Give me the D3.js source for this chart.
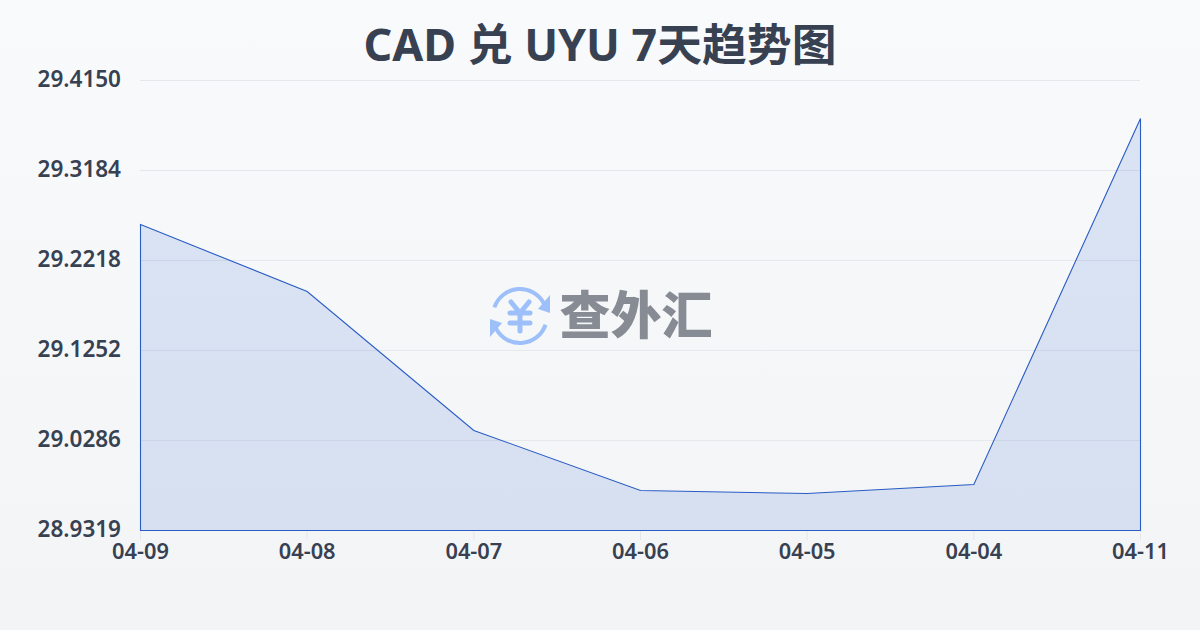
<!DOCTYPE html>
<meta charset="utf-8">
<body>
<script src="https://cdn.jsdelivr.net/npm/d3@7"></script>
<style>
    html, body {
        margin: 0;
        height: 100%;
        background: #f8f9fc;
    }
    svg { display: block; }
    text { font-family: "Noto Sans", "Noto Sans CJK SC", sans-serif; }
</style>
<script>
var dates = ["04-09", "04-08", "04-07", "04-06", "04-05", "04-04", "04-11"],
    rates = [29.2604, 29.1885, 29.0393, 28.9749, 28.9716, 28.9813, 29.3742],
    yTicks = [29.4150, 29.3184, 29.2218, 29.1252, 29.0286, 28.9319],
    title = "CAD 兑 UYU 7天趋势图",
    width = 1200,
    height = 630;

var svg = d3.select("body").append("svg")
    .attr("width", width)
    .attr("height", height);

var grad = svg.append("defs").append("linearGradient")
    .attr("id", "bg")
    .attr("x1", 0).attr("y1", 0)
    .attr("x2", 0).attr("y2", 1);
grad.append("stop").attr("offset", "0%").attr("stop-color", "#f9fafc");
grad.append("stop").attr("offset", "100%").attr("stop-color", "#f3f4f6");

svg.append("rect")
    .attr("width", width)
    .attr("height", height)
    .attr("fill", "url(#bg)");

var x = d3.scalePoint().domain(dates).range([140, 1140]),
    y = d3.scaleLinear().domain([28.9319, 29.4150]).range([530, 80]);

svg.append("text")
    .attr("x", 600)
    .attr("y", 61)
    .attr("text-anchor", "middle")
    .attr("font-size", 44.8)
    .attr("font-weight", 700)
    .attr("fill", "#374151")
    .text(title);

// grid + y labels
var yAxis = svg.append("g")
    .attr("transform", "translate(140,0)")
    .call(d3.axisLeft(y).tickValues(yTicks).tickSize(-1000).tickPadding(19).tickFormat(d3.format(".4f")));
yAxis.select(".domain").remove();
yAxis.selectAll(".tick line").attr("stroke", "#e5e7eb").attr("stroke-width", 1);
yAxis.selectAll(".tick text")
    .attr("fill", "#374151")
    .attr("font-size", 22.5)
    .attr("font-weight", 600)
    .attr("dy", "0.28em")
    .style("font-family", '"Noto Sans", sans-serif');

// x labels
var xAxis = svg.append("g")
    .attr("transform", "translate(0,530)")
    .call(d3.axisBottom(x).tickSize(10).tickPadding(4));
xAxis.select(".domain").remove();
xAxis.selectAll(".tick line").attr("stroke", "#e5e7eb");
xAxis.selectAll(".tick text")
    .attr("fill", "#374151")
    .attr("font-size", 21.8)
    .attr("font-weight", 600)
    .style("font-family", '"Noto Sans", sans-serif');

// area
var area = d3.area()
    .x(function(d, i) { return x(dates[i]); })
    .y0(y(28.9319))
    .y1(function(d) { return y(d); });

svg.append("path")
    .datum(rates)
    .attr("d", area)
    .attr("transform", "translate(0.5,0.5)")
    .attr("fill", "#356bd2")
    .attr("fill-opacity", 0.15)
    .attr("stroke", "#2a5cc5")
    .attr("stroke-width", 1.1);

// watermark logo
var logo = svg.append("g").attr("transform", "translate(520,316)");
var arc = d3.arc().innerRadius(25).outerRadius(29);
logo.append("path")
    .attr("d", arc({startAngle: -1.25, endAngle: 1.1}))
    .attr("fill", "#9dc0fa");
logo.append("path")
    .attr("d", arc({startAngle: 1.9, endAngle: 4.25}))
    .attr("fill", "#9dc0fa");
logo.append("path").attr("d", "M18,-7L30,-21L30,-3Z").attr("fill", "#9dc0fa");
logo.append("path").attr("d", "M-18,7L-30,21L-30,3Z").attr("fill", "#9dc0fa");
logo.append("path")
    .attr("d", "M-9,-14L0,-3L9,-14M-10,-3H10M-10,7H10M0,-3V15")
    .attr("fill", "none")
    .attr("stroke", "#9dc0fa")
    .attr("stroke-width", 5)
    .attr("stroke-linecap", "round")
    .attr("stroke-linejoin", "round");

svg.append("text")
    .attr("x", 636)
    .attr("y", 334)
    .attr("text-anchor", "middle")
    .attr("font-size", 51)
    .attr("font-weight", 900)
    .attr("fill", "#868b94")
    .style("font-family", '"Noto Sans CJK SC", sans-serif')
    .text("查外汇");
</script>
